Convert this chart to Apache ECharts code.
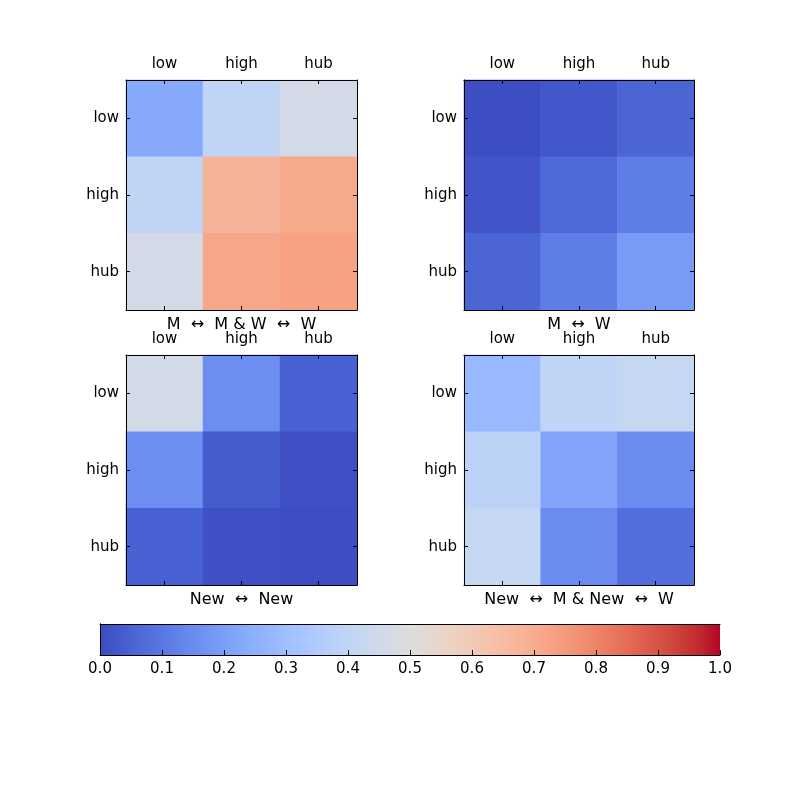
<!DOCTYPE html>
<html>
<head>
<meta charset="utf-8">
<script src="https://cdn.jsdelivr.net/npm/echarts@6/dist/echarts.min.js"></script>
<style>
    html, body { margin: 0; padding: 0; background: #fff; }
    #main { width: 800px; height: 800px; }
</style>
</head>
<body>
<div id="main"></div>
<script>
// categories on both axes
var cats = ['low', 'high', 'hub'];

// rows = y category (low, high, hub), cols = x category
var valsMMW = [
    [0.23, 0.40, 0.46],
    [0.40, 0.68, 0.71],
    [0.46, 0.715, 0.73]
];
var valsMW = [
    [0.005, 0.025, 0.055],
    [0.02, 0.065, 0.115],
    [0.055, 0.115, 0.19]
];
var valsNewNew = [
    [0.46, 0.155, 0.05],
    [0.155, 0.035, 0.01],
    [0.05, 0.01, 0.005]
];
var valsNewMW = [
    [0.28, 0.40, 0.42],
    [0.39, 0.22, 0.15],
    [0.42, 0.15, 0.08]
];

var panelTitles = ['M  \u2194  M & W  \u2194  W', 'M  \u2194  W', 'New  \u2194  New', 'New  \u2194  M & New  \u2194  W'];
var cbTicks = [0, 0.1, 0.2, 0.3, 0.4, 0.5, 0.6, 0.7, 0.8, 0.9, 1.0];

// coolwarm colormap stops
var coolwarm = [
    '#3b4cc0', '#445acc', '#4d68d7', '#5775e1', '#6282ea', '#6c8ef1', '#779af7', '#82a5fb',
    '#8db0fe', '#98b9ff', '#a3c2ff', '#aec9fd', '#b8d0f9', '#c2d5f4', '#ccd9ee', '#d5dbe6',
    '#dddddd', '#e5d8d1', '#ecd3c5', '#f1ccb9', '#f5c4ad', '#f7bba0', '#f7b194', '#f7a687',
    '#f49a7b', '#f18d6f', '#ec7f63', '#e57058', '#de604d', '#d55042', '#cb3e38', '#c0282f',
    '#b40426'
];

var allVals = [valsMMW, valsMW, valsNewNew, valsNewMW];
var FONT = 'DejaVu Sans';

var myChart = echarts.init(document.getElementById('main'));

// panel boxes
var boxes = [
    {left: 126, top: 80, width: 231, height: 230},
    {left: 464, top: 80, width: 230, height: 230},
    {left: 126, top: 355, width: 231, height: 230},
    {left: 464, top: 355, width: 230, height: 230}
];

var grids = [], xAxes = [], yAxes = [], series = [], titles = [];

function toData(m) {
    var out = [];
    for (var r = 0; r < m.length; r++) {
        for (var c = 0; c < m[r].length; c++) {
            out.push([c, r, m[r][c]]);
        }
    }
    return out;
}

var tickStyle = {show: true, inside: true, length: 4, alignWithLabel: true, lineStyle: {color: '#000'}};
var lineStyle = {show: true, lineStyle: {color: '#000', width: 1}};

for (var i = 0; i < 4; i++) {
    grids.push(boxes[i]);
    xAxes.push({
        type: 'category', gridIndex: i, data: cats, position: 'top', z: 5,
        axisLine: lineStyle, axisTick: tickStyle, splitLine: {show: false},
        axisLabel: {color: '#000', fontSize: 15, fontFamily: FONT, margin: 8}
    });
    xAxes.push({
        type: 'category', gridIndex: i, data: cats, position: 'bottom', z: 5,
        axisLine: lineStyle, axisTick: tickStyle, axisLabel: {show: false}, splitLine: {show: false}
    });
    yAxes.push({
        type: 'category', gridIndex: i, data: cats, inverse: true, position: 'left', z: 5,
        axisLine: lineStyle, axisTick: tickStyle, splitLine: {show: false},
        axisLabel: {color: '#000', fontSize: 15, fontFamily: FONT, margin: 7}
    });
    yAxes.push({
        type: 'category', gridIndex: i, data: cats, inverse: true, position: 'right', z: 5,
        axisLine: lineStyle, axisTick: tickStyle, axisLabel: {show: false}, splitLine: {show: false}
    });
    series.push({
        type: 'heatmap',
        xAxisIndex: 2 * i,
        yAxisIndex: 2 * i,
        data: toData(allVals[i]),
        emphasis: {disabled: true},
        silent: true
    });
    titles.push({
        text: panelTitles[i],
        left: boxes[i].left + boxes[i].width / 2,
        top: boxes[i].top + boxes[i].height + 7,
        textAlign: 'center',
        padding: 0,
        textStyle: {color: '#000', fontSize: 16, fontWeight: 'normal', fontFamily: FONT}
    });
}

// colorbar
var stops = coolwarm.map(function (c, k) {
    return {offset: k / (coolwarm.length - 1), color: c};
});
grids.push({left: 100, top: 624, width: 620, height: 31});
xAxes.push({
    type: 'value', gridIndex: 4, min: cbTicks[0], max: cbTicks[cbTicks.length - 1], interval: 0.1,
    position: 'bottom', z: 5,
    axisLine: lineStyle,
    axisTick: {show: true, inside: true, length: 5, lineStyle: {color: '#000'}},
    splitLine: {show: false},
    axisLabel: {
        color: '#000', fontSize: 15, fontFamily: FONT, margin: 7,
        formatter: function (v) { return v.toFixed(1); }
    }
});
xAxes.push({
    type: 'value', gridIndex: 4, min: 0, max: 1, position: 'top', z: 5,
    axisLine: lineStyle, axisTick: {show: false}, axisLabel: {show: false}, splitLine: {show: false}
});
yAxes.push({
    type: 'category', gridIndex: 4, data: ['cb'], position: 'left', z: 5,
    axisLine: lineStyle, axisTick: {show: false}, axisLabel: {show: false}
});
yAxes.push({
    type: 'category', gridIndex: 4, data: ['cb'], position: 'right', z: 5,
    axisLine: lineStyle, axisTick: {show: false}, axisLabel: {show: false}
});
series.push({
    type: 'bar',
    xAxisIndex: 8,
    yAxisIndex: 8,
    data: [1],
    barWidth: '100%',
    silent: true,
    itemStyle: {color: new echarts.graphic.LinearGradient(0, 0, 1, 0, stops)}
});

var option = {
    animation: false,
    backgroundColor: '#fff',
    title: titles,
    grid: grids,
    xAxis: xAxes,
    yAxis: yAxes,
    visualMap: {
        type: 'continuous',
        show: false,
        min: 0,
        max: 1,
        seriesIndex: [0, 1, 2, 3],
        inRange: {color: coolwarm}
    },
    series: series
};
myChart.setOption(option);
</script>
</body>
</html>
